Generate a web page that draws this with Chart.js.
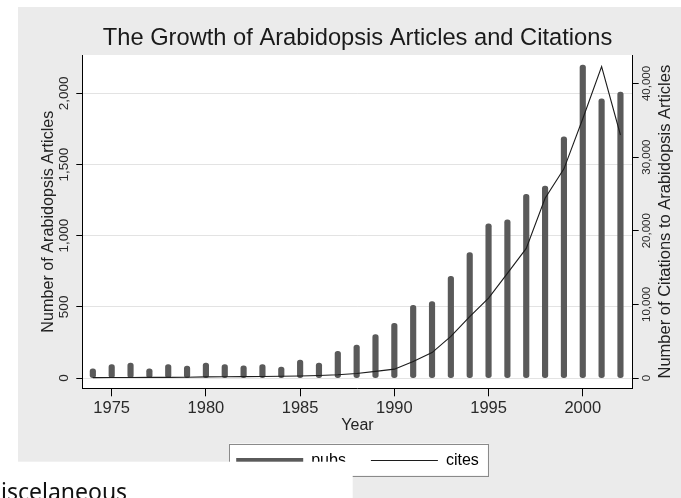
<!DOCTYPE html>
<html>
<head>
<meta charset="utf-8">
<script src="https://cdn.jsdelivr.net/npm/chart.js@4.4.1/dist/chart.umd.min.js"></script>
<style>
  html, body { margin: 0; padding: 0; background: #fff; overflow: hidden; }
  #wrap { width: 681px; height: 498px; position: relative; }
  canvas { display: block; }
</style>
</head>
<body>
<div id="wrap"><canvas id="growth" width="681" height="498"></canvas></div>
<script>
// Publication years
const years = [1974, 1975, 1976, 1977, 1978, 1979, 1980, 1981, 1982, 1983,
               1984, 1985, 1986, 1987, 1988, 1989, 1990, 1991, 1992, 1993,
               1994, 1995, 1996, 1997, 1998, 1999, 2000, 2001, 2002];
// Articles published per year
const pubs = [65, 95, 105, 65, 95, 84, 105, 95, 86, 95,
              77, 126, 105, 187, 232, 305, 384, 511, 537, 715,
              882, 1083, 1111, 1291, 1349, 1695, 2199, 1962, 2009];
// Citations to those articles per year
const cites = [50, 60, 70, 80, 90, 110, 150, 170, 190, 210,
               240, 280, 340, 440, 620, 900, 1200, 2250, 3450, 5650,
               8350, 10850, 14200, 17600, 24400, 28400, 35200, 42300, 33000];
// Axis tick values
const yearTicks = [1975, 1980, 1985, 1990, 1995, 2000];
const pubTicks = [0, 500, 1000, 1500, 2000];
const citeTicks = [0, 10000, 20000, 30000, 40000];

const FAMILY = "'Liberation Sans', Arial, sans-serif";
Chart.defaults.font.family = FAMILY;
const fmt = v => Number(v).toLocaleString('en-US');
const asTicks = arr => arr.map(v => ({ value: v }));

// Backgrounds, legend frame, right-hand axis title and the page strip below
const decorations = {
  id: 'decorations',
  beforeDraw(chart) {
    const { ctx, chartArea: a } = chart;
    ctx.save();
    ctx.fillStyle = '#ffffff';
    ctx.fillRect(0, 0, chart.width, chart.height);
    ctx.fillStyle = '#ebebeb';
    ctx.fillRect(18, 7, chart.width - 18, chart.height - 7);
    ctx.fillStyle = '#ffffff';
    ctx.fillRect(a.left, a.top, a.right - a.left, a.bottom - a.top);

    const hb = chart.legend.legendHitBoxes;
    if (hb && hb.length) {
      const first = hb[0], last = hb[hb.length - 1];
      const cy = first.top + first.height / 2;
      const x0 = first.left - 7, x1 = last.left + last.width + 9;
      const y0 = cy - 17, y1 = cy + 15;
      ctx.fillStyle = '#ffffff';
      ctx.fillRect(x0, y0, x1 - x0, y1 - y0);
      ctx.strokeStyle = '#8a8a8a';
      ctx.lineWidth = 1;
      ctx.strokeRect(Math.round(x0) + 0.5, Math.round(y0) + 0.5, Math.round(x1 - x0), Math.round(y1 - y0));
    }
    ctx.restore();
  },
  afterDraw(chart) {
    const { ctx, chartArea: a } = chart;
    const y2 = chart.scales.y2;
    ctx.save();
    ctx.translate(y2.right - 15.5, (a.top + a.bottom) / 2);
    ctx.rotate(-Math.PI / 2);
    ctx.font = '16.5px ' + FAMILY;
    ctx.fillStyle = '#222';
    ctx.textAlign = 'center';
    ctx.textBaseline = 'middle';
    ctx.fillText('Number of Citations to Arabidopsis Articles', 0, 0);
    ctx.restore();

    ctx.save();
    ctx.fillStyle = '#ffffff';
    ctx.fillRect(0, 461.7, 352.7, chart.height - 461.7);
    ctx.fillStyle = '#111';
    ctx.font = "23px 'Noto Sans', 'Open Sans', sans-serif";
    ctx.textAlign = 'left';
    ctx.textBaseline = 'alphabetic';
    ctx.fillText('iscelaneous', 1, 499.5);
    ctx.restore();
  }
};

new Chart(document.getElementById('growth'), {
  type: 'bar',
  data: {
    datasets: [
      {
        type: 'line',
        label: 'cites',
        data: years.map((y, i) => ({ x: y, y: cites[i] })),
        yAxisID: 'y2',
        borderColor: '#1c1c1c',
        borderWidth: 1.1,
        pointRadius: 0,
        tension: 0,
        fill: false,
        order: 0
      },
      {
        type: 'bar',
        label: 'pubs',
        data: years.map((y, i) => ({ x: y, y: pubs[i] })),
        yAxisID: 'y',
        backgroundColor: '#5a5a5a',
        borderWidth: 0,
        barThickness: 5.5,
        borderRadius: 2.75,
        borderSkipped: false,
        order: 1
      }
    ]
  },
  options: {
    responsive: false,
    animation: false,
    devicePixelRatio: 1,
    layout: { padding: { left: 34, right: 0, top: 0, bottom: 19.5 } },
    plugins: {
      tooltip: { enabled: false },
      title: {
        display: true,
        text: 'The Growth of Arabidopsis Articles and Citations',
        color: '#1a1a1a',
        font: { size: 23.7, weight: 'normal', family: FAMILY },
        padding: { top: 24.5, bottom: 2.1 }
      },
      legend: {
        position: 'bottom',
        align: 'center',
        labels: {
          usePointStyle: true,
          pointStyleWidth: 67,
          padding: 25,
          color: '#1a1a1a',
          font: { size: 16, family: FAMILY },
          generateLabels: () => [
            { text: 'pubs', pointStyle: 'line', strokeStyle: '#5a5a5a', fillStyle: '#5a5a5a', lineWidth: 5, lineCap: 'butt', hidden: false, datasetIndex: 1 },
            { text: 'cites', pointStyle: 'line', strokeStyle: '#1c1c1c', fillStyle: '#1c1c1c', lineWidth: 1.1, lineCap: 'butt', hidden: false, datasetIndex: 0 }
          ]
        }
      }
    },
    scales: {
      x: {
        type: 'linear',
        min: 1973.44,
        max: 2002.65,
        offset: false,
        afterBuildTicks: s => { s.ticks = asTicks(yearTicks); },
        afterFit: s => { s.height = 39.2; },
        ticks: {
          callback: v => String(v),
          autoSkip: false,
          maxRotation: 0,
          padding: 2.7,
          color: '#2a2a2a',
          font: { size: 16.5 }
        },
        grid: { offset: false, drawOnChartArea: false, tickLength: 8, tickColor: '#000', tickWidth: 1 },
        border: { display: true, color: '#000', width: 1 },
        title: {
          display: true,
          text: 'Year',
          color: '#222',
          font: { size: 16 },
          padding: { top: 0, bottom: -7.6 }
        }
      },
      y: {
        type: 'linear',
        position: 'left',
        min: -72,
        max: 2269,
        afterBuildTicks: s => { s.ticks = asTicks(pubTicks); },
        afterFit: s => { s.width = 48.3; },
        ticks: {
          callback: v => fmt(v),
          minRotation: 90,
          maxRotation: 90,
          crossAlign: 'center',
          padding: -5.3,
          color: '#2a2a2a',
          font: { size: 13.5 }
        },
        grid: { color: '#e3e3e3', lineWidth: 1, tickLength: 6, tickColor: '#000', tickWidth: 1 },
        border: { display: true, color: '#000', width: 1 },
        title: {
          display: true,
          text: 'Number of Arabidopsis Articles',
          color: '#222',
          font: { size: 16.2 },
          padding: { top: 4.6, bottom: 0 }
        }
      },
      y2: {
        type: 'linear',
        position: 'right',
        min: -1398,
        max: 43856,
        afterBuildTicks: s => { s.ticks = asTicks(citeTicks); },
        afterFit: s => { s.width = 48.3; },
        ticks: {
          callback: v => fmt(v),
          minRotation: 90,
          maxRotation: 90,
          crossAlign: 'center',
          padding: -9,
          color: '#2a2a2a',
          font: { size: 11.5 }
        },
        grid: { drawOnChartArea: false, tickLength: 6, tickColor: '#000', tickWidth: 1 },
        border: { display: true, color: '#000', width: 1 }
      }
    }
  },
  plugins: [decorations]
});
</script>
</body>
</html>
